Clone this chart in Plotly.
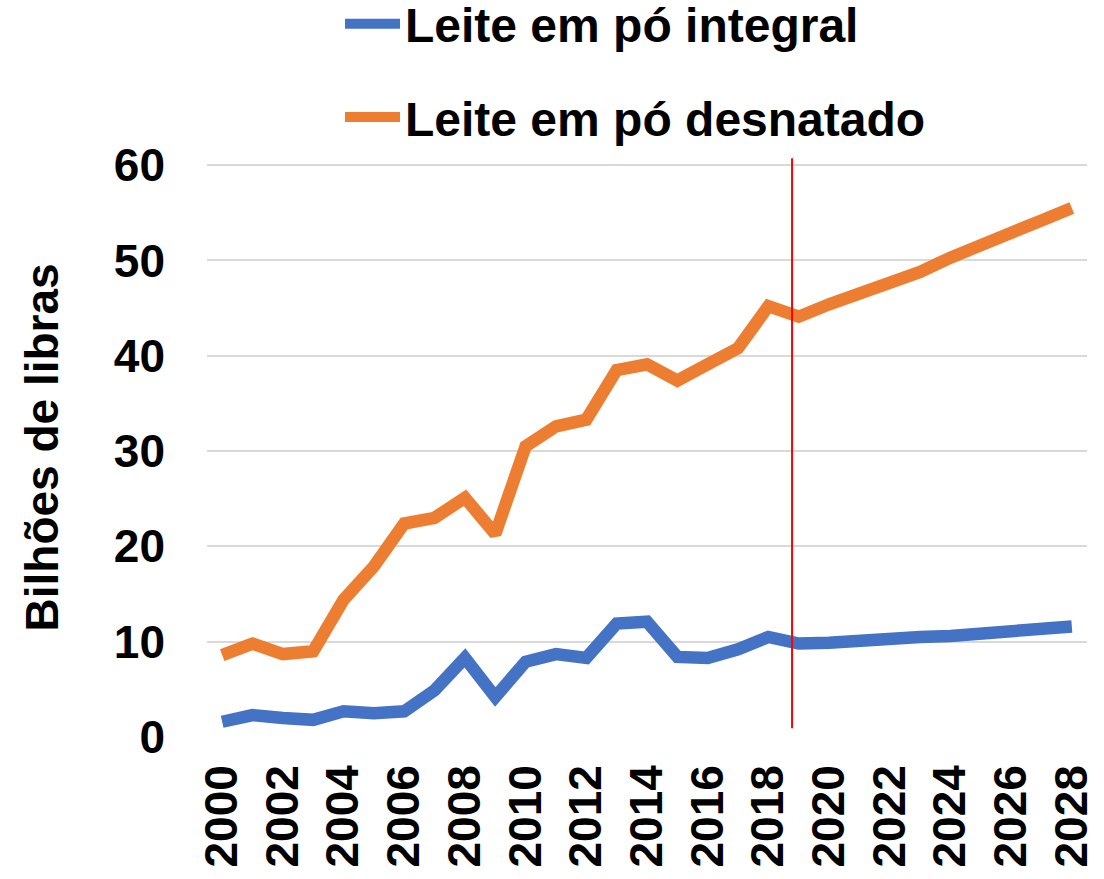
import plotly.graph_objects as go

years = list(range(2000, 2029))
integral = [1.6, 2.3, 2.0, 1.8, 2.7, 2.5, 2.7, 4.9, 8.3, 4.2, 7.9, 8.7, 8.3, 11.9, 12.1,
            8.4, 8.3, 9.2, 10.5, 9.8, 9.9, 10.2, 10.4, 10.5, 10.6, 10.8, 11.2, 11.3, 11.6]
desnatado = [8.6, 9.8, 8.7, 9.0, 14.4, 17.9, 22.4, 23.0, 25.1, 21.3, 30.5, 32.6, 33.3, 38.5, 39.1,
             37.4, 39.1, 40.8, 45.2, 44.1, 45.4, 46.5, 47.6, 48.8, 50.3, 51.5, 52.9, 54.2, 55.5]
series_names = ["Leite em pó integral", "Leite em pó desnatado"]
series_colors = ["#4472C4", "#ED7D31"]
x_ticks = list(range(2000, 2029, 2))
y_ticks = [0, 10, 20, 30, 40, 50, 60]
y_title = "Bilhões de libras"
divider_year = 2018.78
divider_span = [0.92, 60.72]

FONT = "Liberation Sans, Arial, sans-serif"
L, R, T, B = 207, 17, 158, 142
W, H = 1104, 879
PW, PH = W - L - R, H - T - B

fig = go.Figure()
for i, (name, vals) in enumerate(zip(series_names, [integral, desnatado])):
    fig.add_trace(go.Scatter(
        x=years, y=vals, mode="lines", name=name, legendgroup=f"g{i}",
        line=dict(color=series_colors[i], width=12.5),
    ))

fig.add_shape(type="line", xref="x", yref="y",
              x0=divider_year, x1=divider_year, y0=divider_span[0], y1=divider_span[1],
              line=dict(color="#FF0000", width=2))

fig.add_annotation(text=y_title, xref="paper", yref="paper",
                   x=(41 - L) / PW, y=0.5, textangle=-90, showarrow=False,
                   xanchor="center", yanchor="middle",
                   font=dict(family=FONT, size=46, color="black", weight="bold"))

fig.update_layout(
    width=W, height=H,
    paper_bgcolor="white", plot_bgcolor="white",
    margin=dict(l=L, r=R, t=T, b=B, autoexpand=False),
    font=dict(family=FONT, size=46, color="black", weight="bold"),
    showlegend=True,
    legend=dict(
        orientation="v",
        x=(340 - L) / PW, y=1 + (T + 14) / PH, xanchor="left", yanchor="top",
        font=dict(family=FONT, size=48, color="black", weight="bold"),
        tracegroupgap=28, itemwidth=55, bgcolor="rgba(0,0,0,0)",
    ),
    xaxis=dict(
        range=[1999.5, 2028.5], tickvals=x_ticks, tickangle=-90,
        showgrid=False, zeroline=False, showline=False, ticks="",
        ticklabelstandoff=18, automargin=False,
        tickfont=dict(family=FONT, size=46, color="black", weight="bold"),
    ),
    yaxis=dict(
        range=[0, 60.75], tickvals=y_ticks, showgrid=True, gridcolor="#D9D9D9", gridwidth=1.5,
        zeroline=False, showline=False, ticks="", ticklabelstandoff=41, automargin=False,
        tickfont=dict(family=FONT, size=46, color="black", weight="bold"),
    ),
)

fig.write_html("out.html", config={"displayModeBar": False},
               post_script="document.body.style.margin='0';document.body.style.overflow='hidden';")
